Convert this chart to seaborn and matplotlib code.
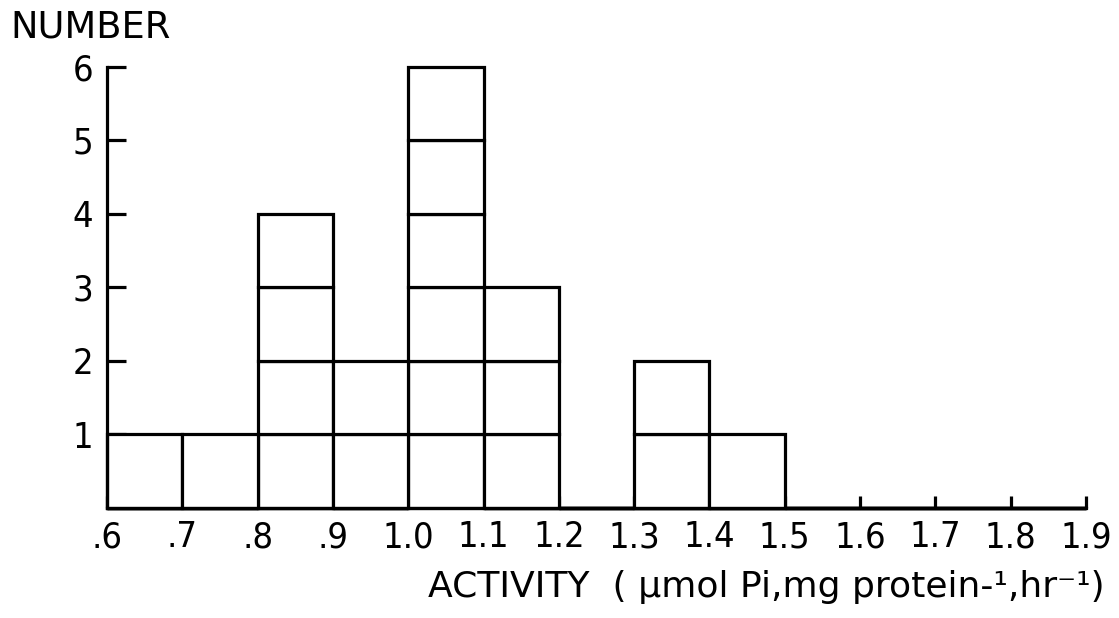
import matplotlib
matplotlib.use("Agg")
import matplotlib.pyplot as plt
import pandas as pd
import seaborn as sns

# Histogram of enzyme activity: bin edges and number of samples per bin
bin_edges = [0.6, 0.7, 0.8, 0.9, 1.0, 1.1, 1.2, 1.3, 1.4, 1.5, 1.6, 1.7, 1.8, 1.9]
counts = [1, 1, 4, 2, 6, 3, 0, 2, 1, 0, 0, 0, 0]
x_tick_labels = [".6", ".7", ".8", ".9", "1.0", "1.1", "1.2", "1.3",
                 "1.4", "1.5", "1.6", "1.7", "1.8", "1.9"]
y_ticks = [1, 2, 3, 4, 5, 6]

# One row per sample; "level" is its position in the stack of its bin,
# so every sample is drawn as its own unit box.
rows = []
for lo, hi, n in zip(bin_edges[:-1], bin_edges[1:], counts):
    for level in range(1, n + 1):
        rows.append({"activity": (lo + hi) / 2, "level": level})
df = pd.DataFrame(rows)

sns.set_style("ticks")
plt.rcParams["font.family"] = ["DejaVu Sans"]
plt.rcParams["text.color"] = "black"
plt.rcParams["axes.labelcolor"] = "black"
LW = 2.3

fig = plt.figure(figsize=(11.19, 6.18), dpi=100)
ax = fig.add_axes([0.0956, 0.178, 0.8749, 0.7136])

levels = sorted(df["level"].unique())
sns.histplot(data=df, x="activity", hue="level", hue_order=levels,
             multiple="stack", bins=bin_edges,
             palette=["white"] * len(levels), alpha=1.0,
             edgecolor="black", linewidth=LW, legend=False, ax=ax)
for p in ax.patches:
    p.set_clip_on(False)

ax.set_xlim(bin_edges[0], bin_edges[-1])
ax.set_ylim(0, 6)
ax.set_xticks(bin_edges)
ax.set_xticklabels(x_tick_labels, fontsize=26, fontstretch="condensed")
ax.set_yticks(y_ticks)
ax.set_yticklabels([str(v) for v in y_ticks], fontsize=26, fontstretch="condensed")

ax.tick_params(axis="y", direction="in", length=14, width=LW, pad=10, colors="black")
ax.tick_params(axis="x", direction="in", length=8.5, width=LW, pad=9, colors="black")

sns.despine(ax=ax, top=True, right=True)
for side in ("left", "bottom"):
    ax.spines[side].set_linewidth(LW)
    ax.spines[side].set_color("black")

ax.set_ylabel("NUMBER", rotation=0, fontsize=26.5, ha="left", va="center", color="black")
ax.yaxis.set_label_coords(-0.099, 1.09)
ax.set_xlabel("ACTIVITY  ( µmol Pi,mg protein-¹,hr⁻¹)", fontsize=26,
              ha="right", va="center", color="black")
ax.xaxis.set_label_coords(1.0195, -0.18)

fig.savefig("out.png", dpi=100, facecolor="white")
